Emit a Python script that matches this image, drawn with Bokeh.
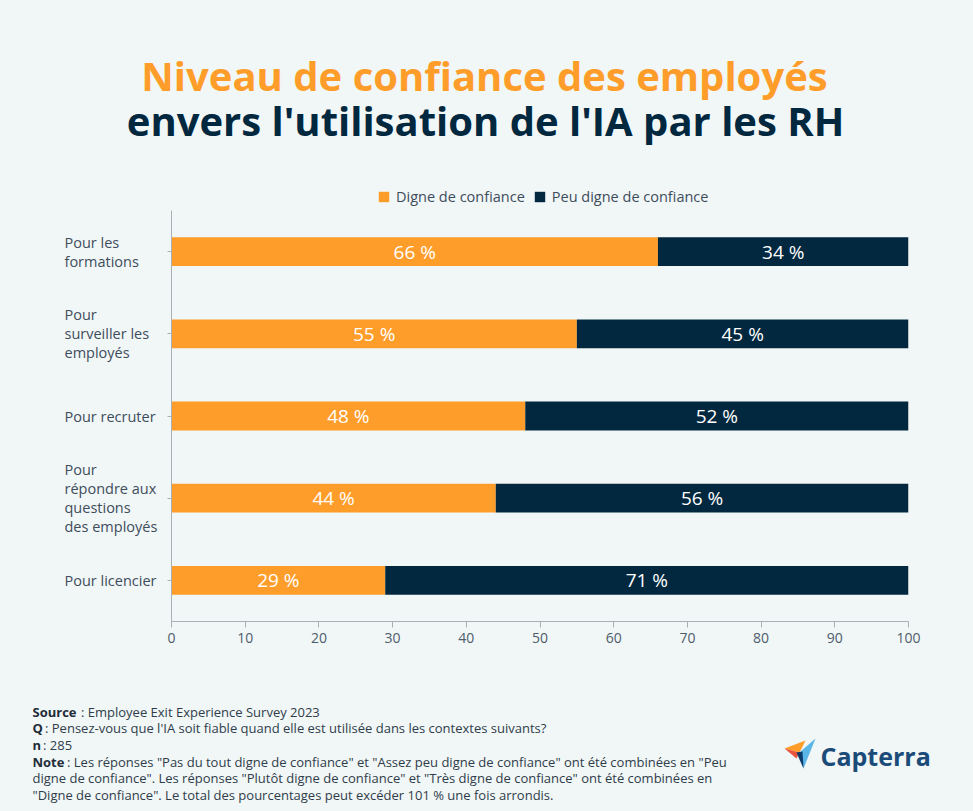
from bokeh.plotting import figure
from bokeh.layouts import column, row
from bokeh.models import ColumnDataSource, Legend, LegendItem, FixedTicker, Range1d
from bokeh.core.properties import value
from bokeh.embed import file_html
from bokeh.resources import INLINE

# ---- data ----
categories = ["Pour les formations", "Pour surveiller les employés", "Pour recruter",
              "Pour répondre aux questions des employés", "Pour licencier"]
category_labels = ["Pour les\nformations", "Pour\nsurveiller les\nemployés", "Pour recruter",
                   "Pour\nrépondre aux\nquestions\ndes employés", "Pour licencier"]
trusted = [66, 55, 48, 44, 29]
untrusted = [34, 45, 52, 56, 71]
series_names = ["Digne de confiance", "Peu digne de confiance"]
x_ticks = [0, 10, 20, 30, 40, 50, 60, 70, 80, 90, 100]

title_1 = "Niveau de confiance des employés"
title_2 = "envers l'utilisation de l'IA par les RH"
foot_bold = ["Source", "Q", "n", "Note", "", ""]
foot_text = [": Employee Exit Experience Survey 2023",
             ": Pensez-vous que l'IA soit fiable quand elle est utilisée dans les contextes suivants?",
             ": 285",
             ": Les réponses \"Pas du tout digne de confiance\" et \"Assez peu digne de confiance\" ont été combinées en \"Peu",
             "digne de confiance\". Les réponses \"Plutôt digne de confiance\" et \"Très digne de confiance\" ont été combinées en",
             "\"Digne de confiance\". Le total des pourcentages peut excéder 101 % une fois arrondis."]
brand = "Capterra"

# ---- style ----
ORANGE = "#FF9D2A"
NAVY = "#02283F"
BG = "#F1F6F7"
TXT = "#3E4D5C"
FONT = "Open Sans"
W = 973
TOP_H, MID_H, BOT_H = 208, 452, 151
LEFT_W = 160

src = ColumnDataSource(dict(
    cat=categories,
    trusted=trusted,
    untrusted=untrusted,
    t_mid=[t / 2 for t in trusted],
    u_mid=[t + u / 2 for t, u in zip(trusted, untrusted)],
    t_lab=[f"{t} %" for t in trusted],
    u_lab=[f"{u} %" for u in untrusted],
))


def blank_fig(width, height, x_range, y_range, **kw):
    f = figure(width=width, height=height, output_backend="svg", toolbar_location=None,
               x_range=x_range, y_range=y_range, x_axis_location=None, y_axis_location=None,
               background_fill_color=BG, border_fill_color=BG, outline_line_color=None,
               min_border_left=0, min_border_right=0, **kw)
    f.grid.visible = False
    return f


# ---- title area + legend ----
top = blank_fig(W, TOP_H, Range1d(0, W), Range1d(TOP_H, 0), min_border_top=0, min_border_bottom=0)
top.text(x=[484], y=[75], text=[title_1], text_font=value(FONT), text_font_style="bold",
         text_font_size="40px", text_color=ORANGE, text_align="center", text_baseline="middle")
top.text(x=[485], y=[120], text=[title_2], text_font=value(FONT), text_font_style="bold",
         text_font_size="40px", text_color=NAVY, text_align="center", text_baseline="middle")

# legend swatches: same series, hidden renderers (only the legend shows their colour)
sw0 = top.hbar(y=0, left=0, right="trusted", height=1, color=ORANGE, line_color=None,
               source=src, visible=False)
sw1 = top.hbar(y=0, left="trusted", right=100, height=1, color=NAVY, line_color=None,
               source=src, visible=False)
legend = Legend(items=[LegendItem(label=series_names[0], renderers=[sw0]),
                       LegendItem(label=series_names[1], renderers=[sw1])],
                orientation="horizontal", location=(377, 2),
                background_fill_alpha=0, border_line_alpha=0, inactive_fill_alpha=0,
                label_text_font=FONT, label_text_font_size="14.5px", label_text_color=TXT,
                glyph_width=13, glyph_height=13, label_standoff=6, spacing=8, padding=0, margin=0)
top.add_layout(legend, "center")

# ---- main chart ----
p = figure(width=W - LEFT_W, height=MID_H, output_backend="svg", toolbar_location=None,
           y_range=list(reversed(categories)), x_range=Range1d(0, 100),
           min_border_left=171 - LEFT_W, min_border_right=65, min_border_top=2, min_border_bottom=39,
           background_fill_color=BG, border_fill_color=BG, outline_line_color=None)

rs = p.hbar_stack(["trusted", "untrusted"], y="cat", height=0.35, color=[ORANGE, NAVY],
                  line_color=None, source=src)

p.text(x="t_mid", y="cat", text="t_lab", source=src, text_color="white",
       text_font=value(FONT), text_font_size="19px", text_align="center", text_baseline="middle")
p.text(x="u_mid", y="cat", text="u_lab", source=src, text_color="white",
       text_font=value(FONT), text_font_size="19px", text_align="center", text_baseline="middle")

p.grid.visible = False
xa = p.xaxis[0]
xa.ticker = FixedTicker(ticks=x_ticks)
xa.axis_line_color = "#A8B0B6"
xa.major_tick_line_color = "#A8B0B6"
xa.major_tick_out = 6
xa.major_tick_in = 0
xa.minor_tick_line_color = None
xa.major_label_text_font = FONT
xa.major_label_text_font_size = "14px"
xa.major_label_text_color = "#4E5D6C"
xa.major_label_standoff = 5

ya = p.yaxis[0]
ya.axis_line_color = "#A8B0B6"
ya.major_tick_line_color = "#A8B0B6"
ya.major_tick_out = 4
ya.major_tick_in = 0
ya.minor_tick_line_color = None
ya.major_label_text_font_size = "0px"
ya.major_label_text_color = None
ya.major_label_standoff = 0

# ---- category labels (left column, shares the y range) ----
left = blank_fig(LEFT_W, MID_H, Range1d(0, LEFT_W), p.y_range, min_border_top=2, min_border_bottom=39)
left.text(x=[64] * len(categories), y=categories, text=category_labels, text_font=value(FONT),
          text_font_size="14.5px", text_color=TXT, text_align="left", text_baseline="middle",
          text_line_height=1.0)

# ---- footer ----
bot = blank_fig(W, BOT_H, Range1d(0, W), Range1d(BOT_H, 0), min_border_top=0, min_border_bottom=0)
OFF = TOP_H + MID_H
foot_y = [711, 727, 744, 761, 777, 794]
bold_w = {"Source": 46, "Q": 10, "n": 8, "Note": 32, "": -2.5}
for b, t, fy in zip(foot_bold, foot_text, foot_y):
    if b:
        bot.text(x=[32], y=[fy - OFF], text=[b], text_font=value(FONT), text_font_style="bold",
                 text_font_size="13px", text_color="#1F2D3A", text_baseline="middle")
    bot.text(x=[32 + bold_w[b] + 2.5], y=[fy - OFF], text=[t], text_font=value(FONT),
             text_font_size="13px", text_color="#2F3D4A", text_baseline="middle")

# Capterra logo
logo_xs = [[784, 805, 799], [784, 799, 796], [815, 800, 803], [796, 802, 803]]
logo_ys = [[748, 740, 752], [748, 752, 758], [738, 751, 768], [752, 751, 768]]
logo_c = ["#FF9D2A", "#E8543E", "#5BB6E8", "#0B3C6B"]
bot.patches(xs=logo_xs, ys=[[v - OFF for v in ys] for ys in logo_ys], fill_color=logo_c, line_color=None)
bot.text(x=[820], y=[755 - OFF], text=[brand], text_font=value(FONT), text_font_style="bold",
         text_font_size="25px", text_color="#1B4B78", text_baseline="middle")

bg_style = {"background-color": BG}
layout = column(top, row(left, p, spacing=0, styles=bg_style), bot, spacing=0, styles=bg_style)
open("out.html", "w").write(file_html(layout, INLINE))
